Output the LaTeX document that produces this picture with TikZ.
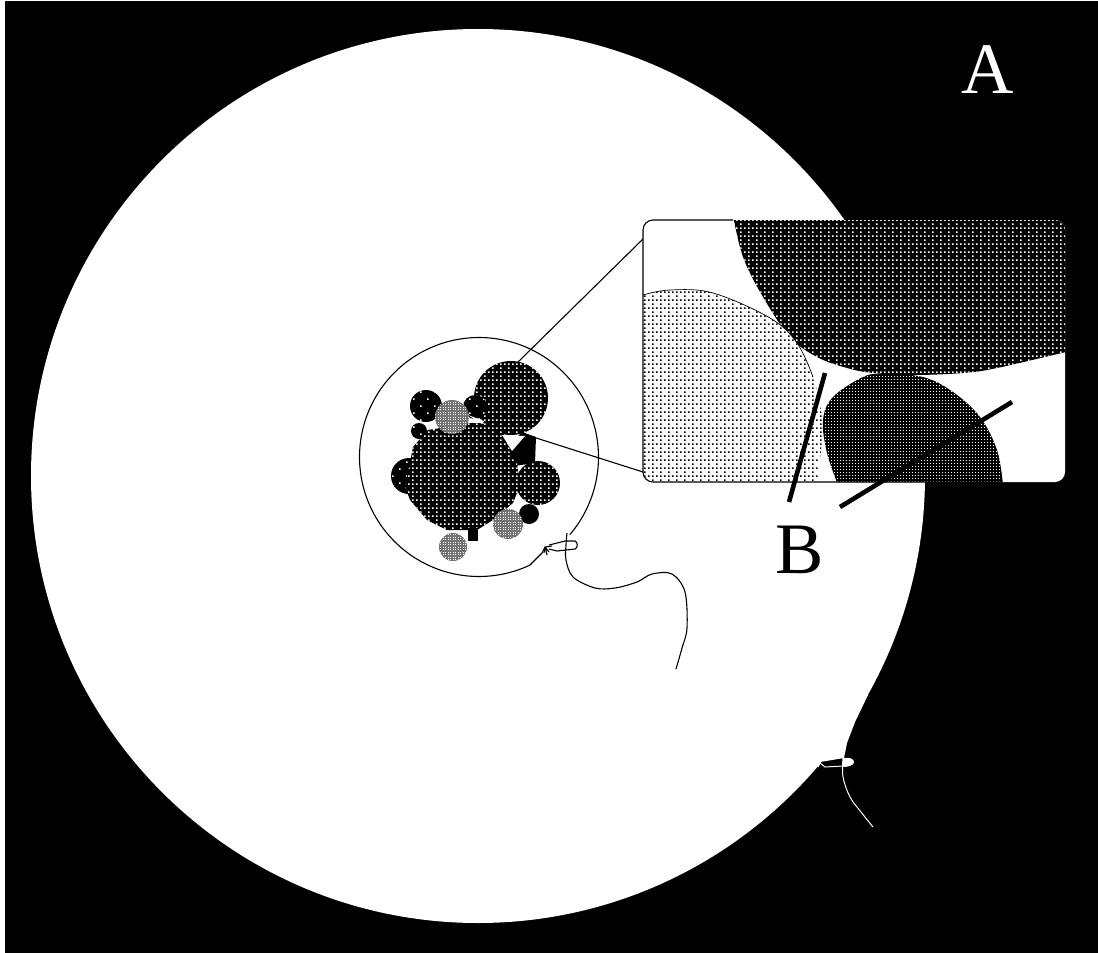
\documentclass[tikz,border=0pt]{standalone}
\usepackage{fontspec}
\setmainfont{Liberation Serif}
\usetikzlibrary{patterns}

% Halftone screens: grid with a staggered gap, square grids, and a sparse stagger
\pgfdeclarepatternformonly{gappedgrid}{\pgfqpoint{-1pt}{-1pt}}{\pgfqpoint{9pt}{9pt}}{\pgfqpoint{8pt}{8pt}}{%
  \pgfpathrectangle{\pgfqpoint{4pt}{0pt}}{\pgfqpoint{1.6pt}{1.6pt}}%
  \pgfpathrectangle{\pgfqpoint{0pt}{4pt}}{\pgfqpoint{1.6pt}{1.6pt}}%
  \pgfpathrectangle{\pgfqpoint{4pt}{4pt}}{\pgfqpoint{1.6pt}{1.6pt}}%
  \pgfusepath{fill}}
\pgfdeclarepatternformonly{finegrid}{\pgfqpoint{-1pt}{-1pt}}{\pgfqpoint{4pt}{4pt}}{\pgfqpoint{3pt}{3pt}}{%
  \pgfpathrectangle{\pgfqpoint{0pt}{0pt}}{\pgfqpoint{1.25pt}{1.25pt}}%
  \pgfusepath{fill}}
\pgfdeclarepatternformonly{graygrid}{\pgfqpoint{-1pt}{-1pt}}{\pgfqpoint{3pt}{3pt}}{\pgfqpoint{2.5pt}{2.5pt}}{%
  \pgfpathrectangle{\pgfqpoint{0pt}{0pt}}{\pgfqpoint{1.25pt}{1.25pt}}%
  \pgfusepath{fill}}
\pgfdeclarepatternformonly{sparse}{\pgfqpoint{-1pt}{-1pt}}{\pgfqpoint{15pt}{15pt}}{\pgfqpoint{14pt}{14pt}}{%
  \pgfpathrectangle{\pgfqpoint{0pt}{0pt}}{\pgfqpoint{1.5pt}{1.5pt}}%
  \pgfpathrectangle{\pgfqpoint{7pt}{7pt}}{\pgfqpoint{1.5pt}{1.5pt}}%
  \pgfusepath{fill}}

\tikzset{
  hairline/.style={draw=black,line width=1.1pt},
  whiteline/.style={draw=white,line width=1pt},
  pointer/.style={draw=black,line width=4.6pt},
  darkscreen/.style={fill=black,postaction={pattern=gappedgrid,pattern color=white}},
  lightscreen/.style={fill=white,postaction={pattern=gappedgrid,pattern color=black}},
  midscreen/.style={fill=black,postaction={pattern=finegrid,pattern color=white}},
  clustergray/.style={fill=black!55,postaction={pattern=graygrid,pattern color=white}},
  clusterblack/.style={fill=black,postaction={pattern=sparse,pattern color=white}},
  letter/.style={inner sep=0pt,anchor=base,font=\fontsize{72.5}{72.5}\selectfont}
}

\begin{document}
\begin{tikzpicture}[x=1pt,y=-1pt]
\useasboundingbox (0,0) rectangle (1098,953);
\fill[white] (0,0) rectangle (1098,953);
\fill[black] (5,1) rectangle (1098,953);

% Outer disc with the drawn-out lip near its knot
\fill[white] (478,476) circle[radius=447];
\fill[white] (868,695) -- (855,722) -- (847,743) -- (844,758) -- (820,762) -- (780,771) -- (780,695) -- cycle;

% Knot and trailing thread on the outer disc
\coordinate (outerKnot) at (820,763);
\coordinate (outerLoop) at (843,758);
\fill[white] (843,758) .. controls (850,757) and (854,759) .. (854,762) .. controls (854,765) and (849,767) .. (843,767) -- cycle;
\draw[whiteline] (outerKnot) -- (825,767) -- (843,766);
\draw[whiteline] (outerKnot) -- (818,767);
\draw[whiteline] plot[smooth,tension=0.6] coordinates {(outerLoop) (843,777) (850,797) (861,812) (873,827)};

% Magnifier circle around the cluster
\coordinate (cKnot) at (545,547);
\draw[hairline] plot[domain=64.7:400.5,samples=180] ({479+119.5*cos(\x)},{457+119.5*sin(\x)});
\draw[hairline] (530,565) -- (542,553) -- (cKnot);

% Particle cluster
\fill[darkscreen] (511,398) circle[radius=37];
\fill[clusterblack] (475,407) circle[radius=12];
\fill[clusterblack] (426,406) circle[radius=16];
\fill[clusterblack] (419,431) circle[radius=8];
\fill[clusterblack] (409,476) circle[radius=18];
\fill[black] (522,432) -- (536,437) -- (535,463) -- (514,466) -- (506,448) -- cycle;
\fill[darkscreen] (538,483) circle[radius=22];
\fill[darkscreen] (428,430) -- (467,423) -- (480,423) -- (490,425) -- (503,433) -- (510,450) -- (517,463) -- (520,487) -- (513,503) -- (493,520) -- (477,530) -- (447,530) -- (427,520) -- (410,500) -- (405,487) -- (413,447) -- cycle;
\fill[black] (468,528) rectangle (478,541);
\fill[black] (529,514) circle[radius=10];
\fill[white] (502,435) -- (525,436) -- (512,451) -- cycle;
\fill[white] (468,415) -- (484,421) -- (482,424) -- cycle;
\fill[white] (427,423) -- (437,425) -- (434,431) -- cycle;
\fill[white] (517,493) -- (523,503) -- (518,512) -- (512,507) -- cycle;
\fill[clustergray] (452,417) circle[radius=17];
\fill[clustergray] (508,524) circle[radius=15];
\fill[clustergray] (453,547) circle[radius=14];

% Thread tied to the magnifier circle
\coordinate (cLoop) at (567,533);
\draw[hairline] (cKnot) -- (549,552) (cKnot) -- (552,546) (cKnot) -- (547,555) (cKnot) -- (544,553);
\draw[hairline] (549,545) -- (565,541) -- (575,541) .. controls (578,542) and (578,548) .. (575,549) -- (557,551) -- (549,549);
\draw[hairline] plot[smooth,tension=0.55] coordinates {(cLoop) (566,545) (566,560) (573,577) (595,588) (615,588) (637,582) (652,574) (672,574) (685,592) (687,628) (682,648) (676,669)};

% Inset with rounded corners, its contents clipped to the frame
\coordinate (insetTL) at (643,239);
\coordinate (insetBL) at (643,472);
\coordinate (clusterTop) at (518,362);
\coordinate (clusterGap) at (533,437);
\draw[hairline] (insetTL) -- (clusterTop);
\draw[hairline] (insetBL) -- (clusterGap);

\path[fill=white,rounded corners=10pt] (643,220) rectangle (1065,482);
\begin{scope}
  \clip[rounded corners=10pt] (643,220) rectangle (1065,482);
  % upper large grain
  \path[darkscreen] plot[smooth,tension=0.6] coordinates {(733,215) (743,257) (763,297) (790,337) (817,357) (847,368) (873,373) (913,375) (963,373) (997,368) (1070,351)} -- (1070,215) -- cycle;
  % left light grain
  \path[lightscreen] (640,295) -- plot[smooth,tension=0.6] coordinates {(643,295) (670,290) (713,293) (770,318) (797,343) (813,377) (822,417) (822,440) (817,485)} -- (640,485) -- cycle;
  \draw[hairline,line width=0.7pt] plot[smooth,tension=0.6] coordinates {(643,295) (670,290) (713,293) (770,318) (797,343) (813,377)};
  % lower medium grain
  \path[midscreen] plot[smooth,tension=0.6] coordinates {(838,485) (827,453) (823,420) (833,397) (863,377) (883,374) (923,377) (953,392) (980,417) (997,450) (1003,485)} -- cycle;
\end{scope}
% Visible part of the inset frame: open across the dark grain and along the right
\draw[hairline,rounded corners=10pt] (733,220) -- (643,220) -- (643,482) -- (1000,482);

% Pointers belonging to label B
\coordinate (pointerOneTop) at (825,373);
\coordinate (pointerOneEnd) at (789,502);
\coordinate (pointerTwoTop) at (1012,402);
\coordinate (pointerTwoEnd) at (840,507);
\draw[pointer] (pointerOneTop) -- (pointerOneEnd);
\draw[pointer] (pointerTwoTop) -- (pointerTwoEnd);

% Labels
\node[letter,text=white] (labelA) at (988,93) {A};
\node[letter,text=black] (labelB) at (800,573) {B};
\end{tikzpicture}
\end{document}
